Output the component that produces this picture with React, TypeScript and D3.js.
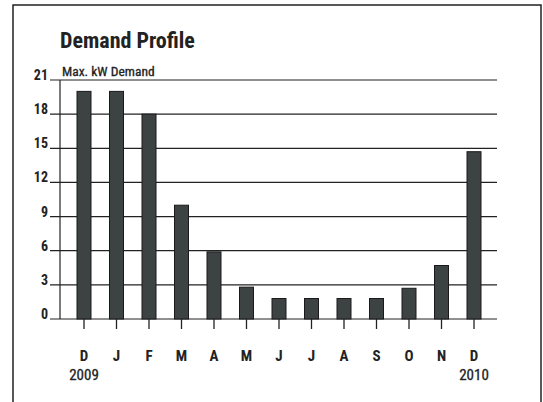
import React from "react";
import * as d3 from "d3";

const months = ["D", "J", "F", "M", "A", "M", "J", "J", "A", "S", "O", "N", "D"];
const years = ["2009", "", "", "", "", "", "", "", "", "", "", "", "2010"];
const demand = [20, 20, 18, 10, 5.9, 2.8, 1.8, 1.8, 1.8, 1.8, 2.7, 4.7, 14.7];
const yTicks = [0, 3, 6, 9, 12, 15, 18, 21];

const FONT = "'Liberation Sans Narrow', 'Roboto Condensed', 'DejaVu Sans Condensed', 'Liberation Sans', sans-serif";

export default function App() {
  const W = 543, H = 402;
  const y = d3.scaleLinear().domain([0, 21]).range([319, 80]);
  const x = d3.scalePoint<number>().domain(d3.range(months.length)).range([84, 474]);
  const barW = 14;
  const axisX = 60;
  const gridX0 = 50;
  const gridX1 = 497;
  return (
    <svg width={W} height={H} style={{ position: "absolute", left: 0, top: 0, background: "#fff" }}>
      <rect x={13} y={5} width={528} height={420} fill="none" stroke="#222" strokeWidth={1.5} />
      <text x={60} y={48} fontFamily={FONT} fontWeight="bold" fontSize={22} fill="#222">Demand Profile</text>
      <text x={62} y={76} fontFamily={FONT} fontSize={13.5} fill="#222" stroke="#222" strokeWidth={0.3}>Max. kW Demand</text>
      {yTicks.map((t) => (
        <g key={t}>
          <line x1={gridX0} x2={gridX1} y1={y(t)} y2={y(t)} stroke="#222" strokeWidth={1.2} />
          <text x={48} y={y(t)} textAnchor="end" fontFamily={FONT} fontWeight="bold" fontSize={14} fill="#222">{t}</text>
        </g>
      ))}
      <line x1={axisX} x2={axisX} y1={y(21)} y2={y(0)} stroke="#222" strokeWidth={1.2} />
      {demand.map((v, i) => (
        <rect key={i} x={(x(i) as number) - barW / 2} y={y(v)} width={barW} height={y(0) - y(v)}
          fill="#3d4242" stroke="#1a1a1a" strokeWidth={1} />
      ))}
      {months.map((m, i) => (
        <g key={i}>
          <line x1={x(i)} x2={x(i)} y1={y(0)} y2={y(0) + 10} stroke="#222" strokeWidth={1.3} />
          <text x={x(i)} y={361} textAnchor="middle" fontFamily={FONT} fontWeight="bold" fontSize={15} fill="#222">{m}</text>
          {years[i] && (
            <text x={x(i)} y={380} textAnchor="middle" fontFamily={FONT} fontSize={15} fill="#222" stroke="#222" strokeWidth={0.3}>{years[i]}</text>
          )}
        </g>
      ))}
    </svg>
  );
}
